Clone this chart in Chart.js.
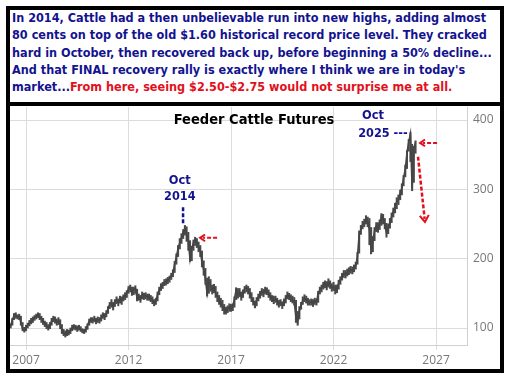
<!DOCTYPE html>
<html>
<head>
<meta charset="utf-8">
<script src="https://cdn.jsdelivr.net/npm/chart.js@4/dist/chart.umd.min.js"></script>
<style>
  html, body { margin: 0; padding: 0; background: #fff; }
  #wrap { position: relative; width: 509px; height: 377px; overflow: hidden; }
  #chart { position: absolute; left: 0; top: 0; }
  .box { position: absolute; box-sizing: border-box; border: 4px solid #000; pointer-events: none; }
  #note { left: 6px; top: 6px; width: 498px; height: 100px; background: #fff; }
  #frame { left: 6px; top: 102px; width: 498px; height: 271px; }
  #noteText {
    position: absolute; left: 12px; top: 9px;
    font: bold 13px "DejaVu Sans", sans-serif; line-height: 17.3px;
    color: #13138f; white-space: nowrap; transform-origin: 0 0;
  }
  #noteText .red { color: #e2101c; }
</style>
</head>
<body>
<div id="wrap">
  <canvas id="chart" width="509" height="377"></canvas>
  <div class="box" id="note"></div>
  <div class="box" id="frame"></div>
  <div id="noteText">
    <div id="l1">In 2014, Cattle had a then unbelievable run into new highs, adding almost</div>
    <div>80 cents on top of the old $1.60 historical record price level. They cracked</div>
    <div>hard in October, then recovered back up, before beginning a 50% decline...</div>
    <div>And that FINAL recovery rally is exactly where I think we are in today's</div>
    <div>market...<span class="red">From here, seeing $2.50-$2.75 would not surprise me at all.</span></div>
  </div>
</div>
<script>
// squeeze the note text to the box width
const noteText = document.getElementById('noteText');
const l1 = document.getElementById('l1');
noteText.style.transform = 'scaleX(' + (480 / l1.scrollWidth) + ')';

// monthly bars, first month = April 2006
const startYear = 2006.25;
const closes = [
  103, 112, 118, 119, 116, 117, 108, 99, 97,
  101, 104, 108, 110, 112, 115, 117, 119, 116, 113, 109, 107,
  103, 101, 104, 110, 114, 112, 108, 111, 105, 97, 93, 91,
  95, 93, 97, 100, 102, 101, 99, 101, 98, 96, 95, 98,
  104, 110, 112, 111, 113, 110, 112, 111, 114, 119, 116, 121,
  128, 134, 136, 131, 138, 141, 137, 142, 140, 145, 147, 150,
  157, 158, 152, 155, 157, 143, 145, 141, 148, 146, 147, 145,
  145, 143, 140, 136, 139, 148, 155, 160, 162, 166, 167, 169,
  172, 175, 179, 192, 202, 215, 223, 230, 238, 244, 236, 225,
  199, 214, 223, 228, 224, 218, 211, 195, 184, 170, 150, 168,
  160, 155, 158, 150, 145, 140, 137, 132, 126, 124, 128, 130,
  128, 131, 142, 155, 148, 152, 145, 150, 157, 158, 155, 150,
  143, 138, 133, 140, 145, 150, 153, 150, 155, 153, 150, 145,
  143, 140, 142, 138, 135, 137, 133, 138, 142, 148, 145, 143,
  140, 138, 115, 109, 125, 133, 140, 143, 141, 138, 137, 138,
  136, 139, 137, 150, 155, 158, 162, 165, 160, 167, 162, 158,
  160, 155, 157, 165, 170, 175, 179, 177, 180, 182, 184, 183,
  187, 190, 203, 235, 242, 249, 252, 257, 254, 242, 213, 225,
  240, 247, 245, 249, 261, 257, 250, 237, 245, 252, 261, 268,
  276, 282, 286, 294, 302, 316, 329, 353, 368, 380, 302, 358,
  368
];
const lows = [
  100, 104, 112, 114, 113, 112, 104, 96, 94,
  96, 100, 103, 106, 108, 111, 113, 115, 112, 108, 105, 102,
  99, 97, 99, 104, 109, 107, 104, 105, 99, 92, 89, 87,
  89, 90, 92, 96, 98, 97, 95, 97, 95, 93, 92, 94,
  98, 104, 108, 107, 109, 106, 108, 107, 110, 114, 112, 116,
  121, 128, 130, 126, 131, 135, 132, 136, 134, 139, 141, 144,
  150, 152, 147, 148, 150, 139, 140, 137, 142, 141, 142, 140,
  140, 138, 135, 132, 134, 139, 148, 154, 157, 161, 162, 164,
  166, 170, 174, 180, 192, 203, 214, 222, 229, 234, 225, 212,
  196, 197, 212, 219, 216, 210, 203, 188, 176, 163, 146, 150,
  153, 149, 151, 144, 138, 134, 130, 125, 120, 120, 122, 124,
  124, 125, 130, 141, 143, 145, 140, 144, 150, 152, 149, 143,
  138, 133, 129, 132, 139, 143, 147, 145, 149, 148, 144, 140,
  138, 135, 137, 133, 130, 132, 128, 132, 136, 142, 141, 138,
  136, 133, 108, 104, 113, 127, 134, 138, 136, 133, 133, 133,
  131, 134, 133, 137, 149, 152, 156, 158, 155, 159, 157, 153,
  154, 149, 151, 156, 163, 169, 173, 172, 175, 177, 179, 178,
  181, 185, 192, 208, 235, 243, 246, 250, 246, 220, 207, 210,
  226, 239, 238, 242, 248, 250, 243, 231, 236, 244, 252, 260,
  266, 272, 278, 285, 292, 305, 318, 330, 355, 340, 298, 310,
  352
];
const highs = [
  106, 114, 121, 122, 119, 120, 117, 108, 101,
  104, 107, 111, 114, 116, 118, 120, 122, 121, 117, 114, 110,
  108, 105, 108, 114, 117, 116, 113, 115, 112, 105, 98, 96,
  98, 97, 100, 104, 105, 104, 103, 104, 102, 99, 98, 102,
  106, 113, 115, 115, 117, 114, 116, 115, 119, 122, 121, 125,
  131, 137, 141, 137, 141, 145, 142, 146, 145, 148, 151, 154,
  160, 162, 159, 159, 161, 156, 149, 147, 152, 150, 151, 149,
  149, 147, 145, 141, 143, 152, 159, 164, 166, 170, 171, 173,
  175, 179, 184, 196, 207, 219, 229, 236, 242, 248, 246, 238,
  226, 218, 227, 231, 229, 224, 219, 211, 197, 186, 172, 174,
  170, 162, 163, 160, 152, 147, 143, 140, 134, 130, 132, 135,
  134, 135, 145, 158, 157, 157, 152, 155, 160, 162, 160, 157,
  151, 144, 139, 144, 149, 153, 157, 156, 159, 158, 155, 151,
  147, 146, 146, 143, 140, 141, 138, 142, 147, 152, 150, 148,
  146, 144, 140, 124, 131, 137, 145, 148, 146, 143, 141, 142,
  141, 143, 142, 153, 159, 162, 166, 168, 167, 171, 168, 164,
  166, 162, 162, 169, 174, 179, 183, 183, 185, 187, 189, 188,
  191, 195, 209, 240, 248, 254, 257, 262, 260, 258, 245, 232,
  245, 252, 252, 256, 265, 264, 258, 251, 250, 258, 266, 273,
  280, 288, 292, 299, 308, 320, 335, 356, 372, 382, 365, 362,
  370
];

const xTicks = [2007, 2012, 2017, 2022, 2027];
const yTicks = [100, 200, 300, 400];

const monthX = i => startYear + i / 12;
const closePts = closes.map((v, i) => ({ x: monthX(i), y: v }));
const rangePts = lows.map((v, i) => ({ x: monthX(i), y: [v, highs[i]] }));

const blue = '#13138f';
const red = '#e2101c';

function arrow(ctx, x1, y1, x2, y2, width, head) {
    // dashed shaft from (x1,y1) to the tip (x2,y2)
    const ang = Math.atan2(y2 - y1, x2 - x1);
    ctx.save();
    ctx.strokeStyle = red;
    ctx.lineWidth = width;
    ctx.setLineDash([4, 2]);
    ctx.beginPath();
    ctx.moveTo(x1, y1);
    ctx.lineTo(x2 - Math.cos(ang) * 3, y2 - Math.sin(ang) * 3);
    ctx.stroke();
    ctx.setLineDash([]);
    ctx.lineWidth = 2;
    ctx.beginPath();
    ctx.moveTo(x2 - Math.cos(ang - 0.6) * head, y2 - Math.sin(ang - 0.6) * head);
    ctx.lineTo(x2, y2);
    ctx.lineTo(x2 - Math.cos(ang + 0.6) * head, y2 - Math.sin(ang + 0.6) * head);
    ctx.stroke();
    ctx.restore();
}

function squeezedText(ctx, text, x, y, font, color, scale, align) {
    ctx.save();
    ctx.font = font;
    ctx.fillStyle = color;
    ctx.textBaseline = 'middle';
    ctx.textAlign = align || 'center';
    ctx.translate(x, y);
    ctx.scale(scale, 1);
    ctx.fillText(text, 0, 0);
    ctx.restore();
}

// title, Oct labels and red arrows, placed in data units
const notes = {
    id: 'notes',
    afterDatasetsDraw(chart) {
        const ctx = chart.ctx;
        const xs = chart.scales.x, ys = chart.scales.y;
        const px = v => xs.getPixelForValue(v);
        const py = v => ys.getPixelForValue(v);
        const f = 'bold 13px "DejaVu Sans", sans-serif';

        squeezedText(ctx, 'Feeder Cattle Futures', px(2018.12), py(400), 'bold 13.5px "DejaVu Sans", sans-serif', '#000', 0.97);

        squeezedText(ctx, 'Oct', px(2014.5), py(313), f, blue, 0.88);
        squeezedText(ctx, '2014', px(2014.5), py(289), f, blue, 0.87);
        ctx.save();
        ctx.strokeStyle = blue;
        ctx.lineWidth = 2.5;
        ctx.setLineDash([4, 2]);
        ctx.beginPath();
        ctx.moveTo(px(2014.66), py(274));
        ctx.lineTo(px(2014.66), py(251));
        ctx.stroke();
        ctx.restore();

        squeezedText(ctx, 'Oct', px(2023.93), py(406), f, blue, 0.88);
        squeezedText(ctx, '2025 ---', px(2023.2), py(380), f, blue, 0.87, 'left');

        arrow(ctx, px(2016.32), py(230), px(2015.49), py(230), 2, 6);
        arrow(ctx, px(2027.05), py(367), px(2026.22), py(367), 2, 6);
        arrow(ctx, px(2026.12), py(347), px(2026.46), py(253), 2.5, 8);
    }
};

const tickFont = { family: "'Open Sans', sans-serif", size: 12 };

new Chart(document.getElementById('chart'), {
    type: 'line',
    data: {
        datasets: [{
            data: closePts,
            borderColor: '#454545',
            borderWidth: 1.6,
            pointRadius: 0,
            tension: 0
        }, {
            type: 'bar',
            data: rangePts,
            backgroundColor: '#4a4a4a',
            barThickness: 1.4,
            grouped: false
        }]
    },
    options: {
        responsive: false,
        animation: false,
        layout: { padding: { left: 9, top: 107, right: 0, bottom: 0 } },
        plugins: { legend: { display: false }, tooltip: { enabled: false } },
        scales: {
            x: {
                type: 'linear',
                offset: false,
                min: 2006.17,
                max: 2028.51,
                afterBuildTicks: s => { s.ticks = xTicks.map(v => ({ value: v })); },
                afterFit: s => { s.height = 32; },
                grid: { color: '#dcdcdc', tickLength: 5, offset: false },
                border: { color: '#d0d0d0' },
                ticks: {
                    color: '#777',
                    font: tickFont,
                    padding: 3,
                    maxRotation: 0,
                    callback: v => String(v)
                }
            },
            y: {
                position: 'right',
                min: 75.5,
                max: 418.75,
                afterBuildTicks: s => { s.ticks = yTicks.map(v => ({ value: v })); },
                afterFit: s => { s.width = 42; },
                grid: { color: '#dcdcdc', drawTicks: false },
                border: { color: '#d0d0d0' },
                ticks: {
                    color: '#777',
                    font: tickFont,
                    padding: 6,
                    callback: v => String(v)
                }
            }
        }
    },
    plugins: [notes]
});
</script>
</body>
</html>
